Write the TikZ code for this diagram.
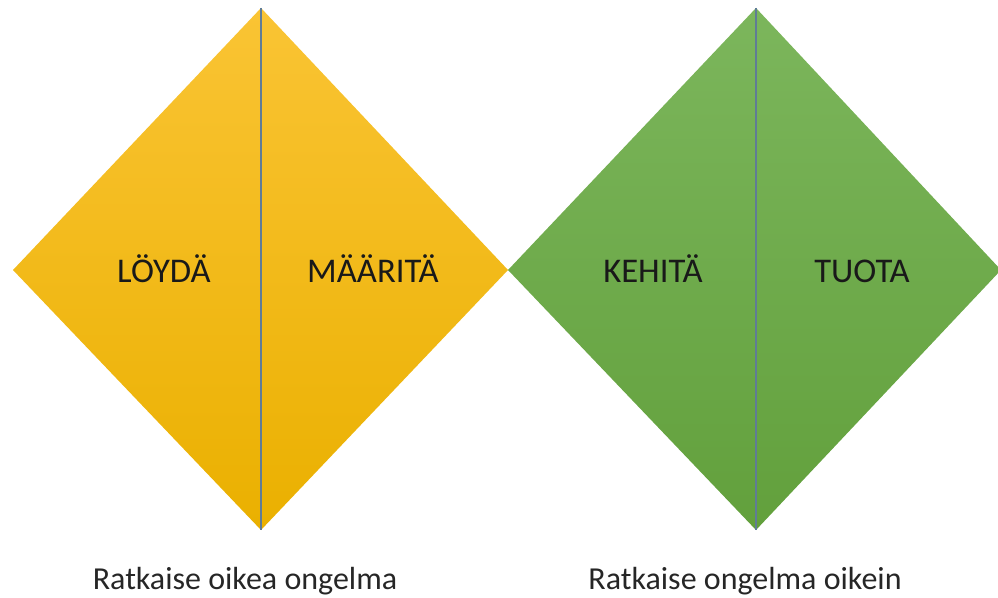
\documentclass[tikz,border=0pt]{standalone}
\usepackage{fontspec}
\setmainfont{Carlito}
\definecolor{ylwTop}{RGB}{250,196,52}
\definecolor{ylwMid}{RGB}{255,192,0}
\definecolor{ylwBot}{RGB}{234,176,0}
\definecolor{grnTop}{RGB}{124,182,92}
\definecolor{grnMid}{RGB}{112,173,71}
\definecolor{grnBot}{RGB}{98,160,60}
\definecolor{divLine}{RGB}{96,124,150}
\tikzset{every picture/.style={line width=0.75pt}}
\tikzset{
  yellowhalf/.style={top color=ylwTop, middle color=ylwMid, bottom color=ylwBot, draw=none},
  greenhalf/.style={top color=grnTop, middle color=grnMid, bottom color=grnBot, draw=none},
  divider/.style={draw=divLine, line width=1.1pt},
  phase/.style={anchor=base, inner sep=0.75pt, text=black!90, font=\fontsize{26}{31}\selectfont},
  goal/.style={anchor=base, inner sep=0.75pt, text=black!85, font=\fontsize{24}{29}\selectfont}
}

\begin{document}
\begin{tikzpicture}[x=0.75pt,y=0.75pt,yscale=-1,xscale=1]
\useasboundingbox (0,0) rectangle (998,598);

% corners of the two diamonds
\coordinate (yL) at (13,270);
\coordinate (yT) at (261,8);
\coordinate (yR) at (508,270);
\coordinate (yB) at (261,530);
\coordinate (gL) at (508,270);
\coordinate (gT) at (756,8);
\coordinate (gR) at (1001,270);
\coordinate (gB) at (756,530);

%Shape: Diamond (yellow)
\path [yellowhalf] (yL) -- (yT) -- (yR) -- (yB) -- cycle ;
%Shape: Diamond (green)
\path [greenhalf] (gL) -- (gT) -- (gR) -- (gB) -- cycle ;
%Straight Lines
\draw [divider] (yT) -- (yB) ;
\draw [divider] (gT) -- (gB) ;

% Text Node
\node [phase] (loyda) at (164,283) {LÖYDÄ};
% Text Node
\node [phase] (maarita) at (373,283) {MÄÄRITÄ};
% Text Node
\node [phase] (kehita) at (653,283) {KEHITÄ};
% Text Node
\node [phase] (tuota) at (862,283) {TUOTA};
% Text Node
\node [goal] (oikea) at (245,589) {Ratkaise oikea ongelma};
% Text Node
\node [goal] (oikein) at (745,589) {Ratkaise ongelma oikein};

\end{tikzpicture}
\end{document}
